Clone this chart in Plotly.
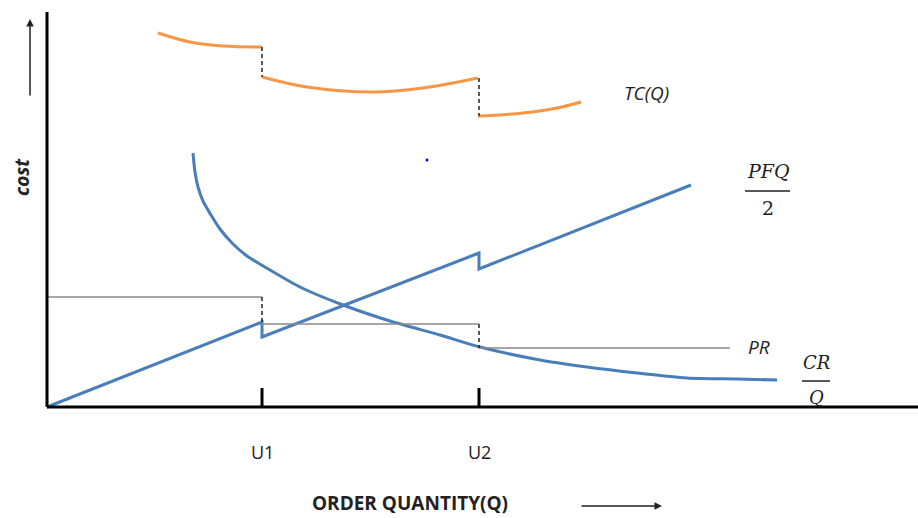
import plotly.graph_objects as go

# Breakpoints (order quantity), conceptual units measured from origin
U = [215, 432]           # U1, U2
u_labels = ["U1", "U2"]

# Holding cost PFQ/2 (three segments, drop at each price break)
pfq_x = [0, 215, 215, 432, 432, 644]
pfq_y = [0, 85, 70, 154, 138, 222]

# Ordering cost CR/Q
crq_x = [146, 148, 151, 156, 164, 173, 185, 200, 223, 255, 296, 343, 393, 433, 493, 540, 590, 640, 690, 730]
crq_y = [254, 235, 220, 206, 192, 178, 164, 151, 137, 119, 102, 86, 72, 60, 47, 40, 34, 29, 28, 27]

# Purchase cost PR (step function)
pr_x = [0, 215, 215, 432, 432, 683]
pr_y = [110, 110, 83, 83, 59, 59]

# Total cost TC(Q), three segments
tc1_x = [111, 143, 176, 215]
tc1_y = [374, 365, 361, 360]
tc2_x = [215, 260, 326, 376, 431]
tc2_y = [330, 320, 315, 319, 329]
tc3_x = [431, 476, 510, 534]
tc3_y = [291, 294, 299, 305]

BLUE = "#4a7ebb"
ORANGE = "#f79646"
GRAY = "#8a8a8a"

fig = go.Figure()
fig.add_trace(go.Scatter(x=pfq_x, y=pfq_y, mode="lines",
                         line=dict(color=BLUE, width=3)))
fig.add_trace(go.Scatter(x=crq_x, y=crq_y, mode="lines", line_shape="spline",
                         line=dict(color=BLUE, width=3, smoothing=0.8)))
fig.add_trace(go.Scatter(x=pr_x[:2], y=pr_y[:2], mode="lines", line=dict(color=GRAY, width=1.5)))
fig.add_trace(go.Scatter(x=pr_x[2:4], y=pr_y[2:4], mode="lines", line=dict(color=GRAY, width=1.5)))
fig.add_trace(go.Scatter(x=pr_x[4:], y=pr_y[4:], mode="lines", line=dict(color=GRAY, width=1.5)))
for tx, ty in [(tc1_x, tc1_y), (tc2_x, tc2_y), (tc3_x, tc3_y)]:
    fig.add_trace(go.Scatter(x=tx, y=ty, mode="lines", line_shape="spline",
                             line=dict(color=ORANGE, width=3)))
# dashed connectors
dash = dict(color="#222", width=1.5, dash="4px,3px")
fig.add_trace(go.Scatter(x=[U[0], U[0]], y=[pr_y[1], pr_y[2]], mode="lines", line=dash))
fig.add_trace(go.Scatter(x=[U[1], U[1]], y=[pr_y[3], pr_y[4]], mode="lines", line=dash))
fig.add_trace(go.Scatter(x=[U[0], U[0]], y=[tc1_y[-1], tc2_y[0]], mode="lines", line=dash))
fig.add_trace(go.Scatter(x=[U[1], U[1]], y=[tc2_y[-1], tc3_y[0]], mode="lines", line=dash))
# stray dot
fig.add_trace(go.Scatter(x=[380], y=[247], mode="markers",
                         marker=dict(color="blue", size=3)))

shapes = [
    dict(type="line", xref="x", yref="y", x0=0, y0=0, x1=871, y1=0,
         line=dict(color="black", width=3)),
    dict(type="line", xref="x", yref="y", x0=0, y0=0, x1=0, y1=395,
         line=dict(color="black", width=3)),
    # fraction bars
    dict(type="line", xref="x", yref="y", x0=698, y0=216, x1=743, y1=216,
         line=dict(color="#222", width=1.5)),
    dict(type="line", xref="x", yref="y", x0=755, y0=26, x1=783, y1=26,
         line=dict(color="#222", width=1.5)),
]
for u in U:
    shapes.append(dict(type="line", xref="x", yref="y", x0=u, y0=0, x1=u, y1=19,
                       line=dict(color="black", width=3)))

sans = "Open Sans, sans-serif"
serif = "DejaVu Serif, serif"
ann = []
for u, lab in zip(U, u_labels):
    ann.append(dict(x=u, y=-45, text=lab, showarrow=False,
                    font=dict(family=sans, size=18, color="#222")))
ann += [
    dict(x=363, y=-96, text="<b>ORDER QUANTITY(Q)</b>", showarrow=False,
         font=dict(family=sans, size=19, color="#222")),
    dict(x=599, y=314, text="<i>TC(Q)</i>", showarrow=False,
         font=dict(family=sans, size=19, color="#222")),
    dict(x=712, y=60, text="<i>PR</i>", showarrow=False,
         font=dict(family=sans, size=19, color="#222")),
    dict(x=721, y=236, text="<i>PFQ</i>", showarrow=False,
         font=dict(family=serif, size=19, color="#222")),
    dict(x=721, y=199, text="2", showarrow=False,
         font=dict(family=serif, size=19, color="#222")),
    dict(x=769, y=45, text="<i>CR</i>", showarrow=False,
         font=dict(family=serif, size=18, color="#222")),
    dict(x=769, y=10, text="<i>Q</i>", showarrow=False,
         font=dict(family=serif, size=18, color="#222")),
    dict(x=-25, y=230, text="<b><i>cost</i></b>", showarrow=False, textangle=-90,
         font=dict(family=sans, size=19, color="#222")),
    # arrows
    dict(x=-17, y=388, ax=-17, ay=310, xref="x", yref="y", axref="x", ayref="y",
         text="", showarrow=True, arrowhead=2, arrowsize=1, arrowwidth=1.5,
         arrowcolor="#222"),
    dict(x=615, y=-99, ax=533, ay=-99, xref="x", yref="y", axref="x", ayref="y",
         text="", showarrow=True, arrowhead=2, arrowsize=1, arrowwidth=1.5,
         arrowcolor="#222"),
]

fig.update_layout(
    width=918, height=518, margin=dict(l=0, r=0, t=0, b=0),
    paper_bgcolor="white", plot_bgcolor="white", showlegend=False,
    xaxis=dict(range=[-47, 871], visible=False, fixedrange=True),
    yaxis=dict(range=[-111, 407], visible=False, fixedrange=True),
    shapes=shapes, annotations=ann,
)
fig.write_html("out.html", config={"displayModeBar": False},
               post_script="document.body.style.margin='0';document.body.style.overflow='hidden';")
